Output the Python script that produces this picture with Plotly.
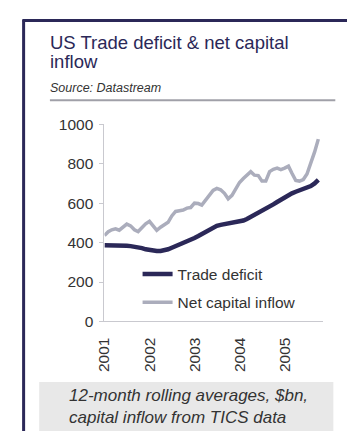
import plotly.graph_objects as go
import pandas as pd

# Monthly 12-month rolling averages, $bn (Jan 2001 - Oct 2005)
months = pd.date_range("2001-01-01", periods=58, freq="MS").strftime("%Y-%m-%d").tolist()

trade_deficit = [
    387, 387, 388, 388, 387, 386, 384, 382, 380, 377, 372, 366,
    361, 358, 357, 357, 360, 366, 374, 382, 390, 396, 403, 413,
    423, 433, 443, 455, 468, 478, 485, 490, 494, 497, 500, 503,
    506, 512, 520, 530, 542, 553, 564, 574, 584, 594, 606, 618,
    630, 640, 650, 658, 665, 672, 680, 687, 700, 718,
]

net_capital_inflow = [
    436, 455, 465, 470, 463, 480, 494, 485, 465, 456, 478, 495,
    508, 482, 462, 478, 490, 503, 535, 558, 562, 565, 575, 578,
    600, 598, 590, 615, 640, 665, 675, 668, 650, 622, 640, 675,
    705, 725, 745, 760, 742, 740, 712, 712, 760, 772, 778, 770,
    778, 788, 752, 715, 712, 720, 748, 800, 860, 925,
]

year_ticks = ["2001-01-01", "2002-01-01", "2003-01-01", "2004-01-01", "2005-01-01"]
year_labels = ["2001", "2002", "2003", "2004", "2005"]
y_ticks = [0, 200, 400, 600, 800, 1000]

W, H = 347, 439
FONT = "Liberation Sans, Arial, sans-serif"
NAVY = "#2b2858"
GREY_LINE = "#abadbc"
TEXT = "#333333"
AXIS = "#c9c9cf"


def px(x):
    return x / W


def py(y):
    return 1 - y / H


fig = go.Figure()
fig.add_trace(go.Scatter(
    x=months, y=trade_deficit, mode="lines", name="Trade deficit",
    line=dict(color=NAVY, width=4.5), legendgroup="a",
))
fig.add_trace(go.Scatter(
    x=months, y=net_capital_inflow, mode="lines", name="Net capital inflow",
    line=dict(color=GREY_LINE, width=3.5), legendgroup="b",
))

shapes = [
    # frame
    dict(type="line", xref="paper", yref="paper", x0=px(14), x1=px(347), y0=py(12), y1=py(12),
         line=dict(color=NAVY, width=3)),
    dict(type="line", xref="paper", yref="paper", x0=px(15), x1=px(15), y0=py(11), y1=py(439),
         line=dict(color=NAVY, width=3)),
    # rule under the source line
    dict(type="line", xref="paper", yref="paper", x0=px(42), x1=px(335), y0=py(95), y1=py(95),
         line=dict(color="#a0a0a8", width=2)),
    # footnote panel
    dict(type="rect", xref="paper", yref="paper", x0=px(31), x1=px(333), y0=py(388), y1=py(439),
         fillcolor="#e8e8e8", line=dict(width=0), layer="below"),
]

annotations = [
    dict(text="US Trade deficit & net capital", x=px(41), y=py(47), xanchor="left", yanchor="bottom",
         font=dict(family=FONT, size=18.5, color=NAVY)),
    dict(text="inflow", x=px(41), y=py(67), xanchor="left", yanchor="bottom",
         font=dict(family=FONT, size=18.5, color=NAVY)),
    dict(text="<i>Source: Datastream</i>", x=px(41), y=py(90), xanchor="left", yanchor="bottom",
         font=dict(family=FONT, size=12.5, color=TEXT)),
    dict(text="<i>12-month rolling averages, $bn,<br>capital inflow from TICS data</i>",
         x=px(61), y=py(414), xanchor="left", yanchor="middle", align="left",
         font=dict(family=FONT, size=17, color=TEXT)),
]
for a in annotations:
    a.update(xref="paper", yref="paper", showarrow=False, borderpad=0)

fig.update_layout(
    width=W, height=H,
    margin=dict(l=0, r=0, t=0, b=0),
    paper_bgcolor="white", plot_bgcolor="white",
    font=dict(family=FONT, size=15.5, color=TEXT),
    shapes=shapes, annotations=annotations,
    showlegend=True,
    legend=dict(x=px(132), y=py(258.5), xanchor="left", yanchor="top",
                bgcolor="rgba(0,0,0,0)", borderwidth=0, tracegroupgap=5,
                font=dict(family=FONT, size=15.5, color=TEXT)),
    xaxis=dict(
        type="date", domain=[px(98), px(322)],
        range=["2001-01-01", "2005-11-05"],
        tickmode="array", tickvals=year_ticks, ticktext=year_labels, tickangle=-90,
        ticks="outside", ticklen=9, tickcolor="rgba(0,0,0,0)",
        showline=True, linecolor=AXIS, linewidth=1, showgrid=False, zeroline=False,
        tickfont=dict(family=FONT, size=15.5, color=TEXT),
    ),
    yaxis=dict(
        domain=[py(325), py(120)], range=[0, 1000],
        tickmode="array", tickvals=y_ticks,
        ticks="outside", ticklen=4, tickcolor=AXIS, ticklabelstandoff=3,
        showline=True, linecolor=AXIS, linewidth=1, showgrid=False, zeroline=False,
        tickfont=dict(family=FONT, size=15.5, color=TEXT),
    ),
)

fig.write_html("out.html")
